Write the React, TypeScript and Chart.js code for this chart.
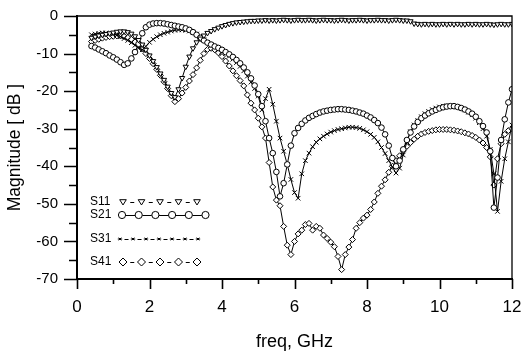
import React, { useEffect, useRef } from 'react';
import { Chart, registerables } from 'chart.js';

Chart.register(...registerables);

// frequency axis (GHz)
const freq = [
  0.4, 0.5, 0.6, 0.7, 0.8, 0.9, 1.0, 1.1, 1.2, 1.3,
  1.4, 1.5, 1.6, 1.7, 1.8, 1.9, 2.0, 2.1, 2.2, 2.3,
  2.4, 2.5, 2.6, 2.7, 2.8, 2.9, 3.0, 3.1, 3.2, 3.3,
  3.4, 3.5, 3.6, 3.7, 3.8, 3.9, 4.0, 4.1, 4.2, 4.3,
  4.4, 4.5, 4.6, 4.7, 4.8, 4.9, 5.0, 5.1, 5.2, 5.3,
  5.4, 5.5, 5.6, 5.7, 5.8, 5.9, 6.0, 6.1, 6.2, 6.3,
  6.4, 6.5, 6.6, 6.7, 6.8, 6.9, 7.0, 7.1, 7.2, 7.3,
  7.4, 7.5, 7.6, 7.7, 7.8, 7.9, 8.0, 8.1, 8.2, 8.3,
  8.4, 8.5, 8.6, 8.7, 8.8, 8.9, 9.0, 9.1, 9.2, 9.3,
  9.4, 9.5, 9.6, 9.7, 9.8, 9.9, 10.0, 10.1, 10.2, 10.3,
  10.4, 10.5, 10.6, 10.7, 10.8, 10.9, 11.0, 11.1, 11.2, 11.3,
  11.4, 11.5, 11.6, 11.7, 11.8, 11.9, 12.0,
];

const s11 = [
  -5.8, -5.5, -5.2, -5.0, -4.8, -4.6, -4.4, -4.2, -4.1, -4.1,
  -4.3, -4.7, -5.4, -6.4, -7.6, -9.0, -10.5, -12.0, -13.6, -15.3,
  -17.0, -18.8, -20.5, -21.6, -19.5, -16.5, -13.5, -10.8, -8.6, -7.0,
  -6.0, -5.2, -4.5, -4.0, -3.5, -3.1, -2.7, -2.4, -2.1, -1.9,
  -1.7, -1.6, -1.5, -1.4, -1.3, -1.3, -1.2, -1.2, -1.1, -1.2,
  -1.1, -1.2, -1.1, -1.0, -1.1, -1.2, -1.1, -1.0, -1.1, -1.1,
  -1.0, -1.1, -1.2, -1.1, -1.0, -1.1, -1.1, -1.2, -1.1, -1.0,
  -1.1, -1.2, -1.1, -1.1, -1.0, -1.1, -1.2, -1.1, -1.1, -1.0,
  -1.1, -1.1, -1.2, -1.1, -1.0, -1.1, -1.2, -1.2, -1.4, -2.0,
  -2.1, -2.2, -2.1, -2.2, -2.1, -2.2, -2.2, -2.1, -2.2, -2.1,
  -2.2, -2.1, -2.2, -2.2, -2.1, -2.2, -2.1, -2.2, -2.2, -2.1,
  -2.2, -2.3, -2.2, -2.1, -2.2, -2.2, -2.1,
];

const s21 = [
  -8.0, -8.4, -8.9, -9.4, -9.9, -10.5, -11.0, -11.6, -12.3, -13.0,
  -12.6, -11.3, -9.6, -7.4, -4.6, -3.0, -2.3, -2.0, -1.9, -1.9,
  -2.0, -2.2, -2.4, -2.6, -2.8, -3.0, -3.3, -3.7, -4.3, -5.0,
  -5.8, -6.5, -7.1, -7.6, -8.1, -8.5, -9.0, -9.6, -10.2, -10.9,
  -11.7, -12.6, -13.7, -15.0, -16.6, -18.5, -20.8, -24.0, -28.0, -32.5,
  -36.5, -41.5, -48.0, -44.5, -39.5, -34.5, -31.2, -29.8, -28.7, -27.8,
  -27.1, -26.6, -26.1, -25.7, -25.4, -25.2, -25.0, -24.9, -24.8, -24.8,
  -24.9, -25.0, -25.2, -25.4, -25.7, -26.0, -26.5, -27.0, -27.7, -28.5,
  -29.7, -31.5, -34.5, -37.8, -40.0, -38.5, -35.5, -33.0, -31.0, -29.4,
  -28.2, -27.2, -26.5, -25.9, -25.4, -25.0, -24.6, -24.3, -24.1, -24.0,
  -24.0, -24.2, -24.5, -24.9, -25.4, -26.0, -26.8, -28.0, -29.3, -31.0,
  -36.0, -51.0, -43.0, -33.0, -27.5, -23.0, -19.5,
];

const s31 = [
  -5.0, -4.8, -4.6, -4.5, -4.5, -4.6, -4.8, -5.1, -5.5, -6.0,
  -6.5, -7.1, -7.8, -8.5, -9.0, -8.1, -7.0, -6.2, -5.5, -5.0,
  -4.6, -4.3, -4.0, -3.8, -3.7, -3.7, -3.8, -4.0, -4.3, -4.8,
  -5.5, -6.3, -7.0, -7.7, -8.3, -8.9, -9.4, -10.0, -10.7, -11.5,
  -12.4, -13.4, -14.6, -16.0, -17.6, -19.3, -21.3, -25.0, -22.0, -19.5,
  -23.5, -28.0, -32.5, -36.0, -39.5, -43.5, -47.0, -48.5, -42.0, -38.5,
  -36.5, -34.8, -33.6, -32.7, -32.0, -31.4, -30.9, -30.5, -30.2, -30.0,
  -29.8, -29.6, -29.6, -29.7, -29.9, -30.3, -30.8, -31.5, -32.3, -33.5,
  -35.0, -36.6, -38.5, -40.2, -41.8, -40.5, -37.0, -33.5, -30.8, -29.0,
  -27.8, -26.8, -26.0, -25.4, -24.9, -24.5, -24.2, -24.0, -23.9, -23.9,
  -24.0, -24.2, -24.6, -25.0, -25.6, -26.3, -27.2, -28.4, -30.0, -32.0,
  -35.5, -42.0, -52.0, -44.0, -38.0, -33.5, -29.0,
];

const s41 = [
  -6.8, -6.5, -6.2, -5.9, -5.7, -5.5, -5.4, -5.3, -5.3, -5.4,
  -5.7, -6.2, -6.9, -7.8, -8.8, -10.0, -11.3, -12.7, -14.2, -15.8,
  -17.5, -19.3, -21.2, -22.8, -22.0, -20.5, -19.0, -17.3, -15.6, -13.8,
  -11.8, -10.0, -8.9, -8.6, -9.0, -9.8, -10.8, -12.0, -13.3, -14.6,
  -15.9, -17.2, -18.6, -21.0, -23.2, -25.0, -27.2, -29.5, -32.5, -39.0,
  -45.5, -49.0, -50.5, -56.0, -61.0, -63.5, -60.0, -58.0, -57.0, -55.5,
  -55.2, -57.0, -56.0, -56.5, -58.3, -59.2, -60.2, -61.4, -64.0, -67.5,
  -63.5, -61.5, -59.5, -56.5, -55.0, -53.8, -53.0, -51.5, -49.5, -47.2,
  -45.3, -43.6, -41.6, -40.0, -38.5, -37.2, -35.9, -34.7, -33.7, -32.8,
  -32.0, -31.4, -31.0, -30.7, -30.5, -30.3, -30.2, -30.2, -30.2, -30.3,
  -30.4, -30.6, -30.8, -31.1, -31.4, -31.8, -32.3, -33.0, -33.8, -35.0,
  -37.5, -45.0, -38.0, -34.0, -31.5, -30.5, -30.0,
];

const seriesNames = ['S11', 'S21', 'S31', 'S41'];
const xMin = 0;
const xMax = 12;
const yMin = -70;
const yMax = 0;

const FONT = '"Liberation Sans", Arial, Helvetica, sans-serif';

type Shape = 'tri' | 'circle' | 'star' | 'diamond';

function drawShape(ctx: CanvasRenderingContext2D, shape: Shape, x: number, y: number, r: number) {
  ctx.beginPath();
  if (shape === 'tri') {
    ctx.moveTo(x - r, y - r * 0.7);
    ctx.lineTo(x + r, y - r * 0.7);
    ctx.lineTo(x, y + r * 0.9);
    ctx.closePath();
    ctx.fillStyle = '#fff';
    ctx.fill();
    ctx.stroke();
  } else if (shape === 'circle') {
    ctx.arc(x, y, r, 0, Math.PI * 2);
    ctx.fillStyle = '#fff';
    ctx.fill();
    ctx.stroke();
  } else if (shape === 'diamond') {
    ctx.moveTo(x, y - r);
    ctx.lineTo(x + r, y);
    ctx.lineTo(x, y + r);
    ctx.lineTo(x - r, y);
    ctx.closePath();
    ctx.fillStyle = '#fff';
    ctx.fill();
    ctx.stroke();
  } else {
    ctx.moveTo(x - r, y);
    ctx.lineTo(x + r, y);
    ctx.moveTo(x - r * 0.6, y - r * 0.6);
    ctx.lineTo(x + r * 0.6, y + r * 0.6);
    ctx.moveTo(x - r * 0.6, y + r * 0.6);
    ctx.lineTo(x + r * 0.6, y - r * 0.6);
    ctx.stroke();
  }
}

const legendRows: { shape: Shape; y: number; xs: number[]; r: number; joined: boolean }[] = [
  { shape: 'tri', y: 202, xs: [123, 141.5, 160, 178.5, 197], r: 3.3, joined: false },
  { shape: 'circle', y: 215, xs: [122, 138.7, 155.4, 172.1, 188.8, 205.5], r: 3.6, joined: true },
  { shape: 'star', y: 239, xs: [120, 133, 146, 159, 172, 185, 198], r: 2.2, joined: false },
  { shape: 'diamond', y: 262, xs: [123, 141.5, 160, 178.5, 197], r: 4, joined: false },
];

const framePlugin = {
  id: 'frameTicksLegend',
  afterDraw(chart: any) {
    const { ctx, chartArea: a, scales } = chart;
    const xs = scales.x;
    const ys = scales.y;
    ctx.save();
    ctx.strokeStyle = '#000';
    ctx.lineWidth = 1.3;
    ctx.beginPath();
    ctx.moveTo(a.left, a.top);
    ctx.lineTo(a.right, a.top);
    ctx.lineTo(a.right, a.bottom);
    ctx.stroke();

    ctx.lineWidth = 1.6;
    ctx.beginPath();
    for (let v = xMin; v <= xMax; v += 1) {
      const px = Math.round(xs.getPixelForValue(v)) + 0.5;
      const len = v % 2 === 0 ? 10 : 5;
      ctx.moveTo(px, a.bottom);
      ctx.lineTo(px, a.bottom + len);
    }
    for (let v = yMax; v >= yMin; v -= 5) {
      const py = Math.round(ys.getPixelForValue(v)) + 0.5;
      const len = v % 10 === 0 ? 13 : 8;
      ctx.moveTo(a.left - len, py);
      ctx.lineTo(a.left, py);
    }
    ctx.stroke();

    // legend
    ctx.font = '12px ' + FONT;
    ctx.textBaseline = 'middle';
    ctx.textAlign = 'left';
    ctx.fillStyle = '#000';
    legendRows.forEach((row, i) => {
      ctx.fillStyle = '#000';
      ctx.fillText(chart.data.datasets[i].label, 90, row.y);
      ctx.lineWidth = 1;
      ctx.strokeStyle = '#000';
      ctx.beginPath();
      for (let k = 0; k < row.xs.length - 1; k++) {
        const mid = (row.xs[k] + row.xs[k + 1]) / 2;
        if (row.joined) {
          ctx.moveTo(row.xs[k] + row.r, row.y + 0.5);
          ctx.lineTo(row.xs[k + 1] - row.r, row.y + 0.5);
        } else {
          ctx.moveTo(mid - 2, row.y + 0.5);
          ctx.lineTo(mid + 2, row.y + 0.5);
        }
      }
      ctx.stroke();
      row.xs.forEach((x) => drawShape(ctx, row.shape, x, row.y, row.r));
    });
    ctx.restore();
  },
};

function toPoints(ys: number[]) {
  return freq.map((f, i) => ({ x: f, y: ys[i] }));
}

export default function App() {
  const ref = useRef<HTMLCanvasElement | null>(null);

  useEffect(() => {
    if (!ref.current) return;
    const common = {
      borderColor: '#000',
      borderWidth: 1,
      pointBorderColor: '#000',
      pointBackgroundColor: '#fff',
      pointBorderWidth: 1,
      tension: 0,
      fill: false,
    };
    const chart = new Chart(ref.current, {
      type: 'line',
      data: {
        datasets: [
          { ...common, label: seriesNames[0], data: toPoints(s11), pointStyle: 'triangle', rotation: 180, pointRadius: 3 },
          { ...common, label: seriesNames[1], data: toPoints(s21), pointStyle: 'circle', pointRadius: 2.8 },
          { ...common, label: seriesNames[2], data: toPoints(s31), pointStyle: 'crossRot', pointRadius: 3.2, pointBackgroundColor: '#000' },
          { ...common, label: seriesNames[3], data: toPoints(s41), pointStyle: 'rectRot', pointRadius: 3 },
        ],
      },
      options: {
        responsive: false,
        animation: false,
        layout: { padding: { top: 16, right: 9, bottom: 0, left: 0 } },
        plugins: {
          legend: { display: false },
          tooltip: { enabled: false },
        },
        scales: {
          x: {
            type: 'linear',
            min: xMin,
            max: xMax,
            afterFit: (s: any) => { s.height = 77; s.paddingLeft = 0; s.paddingRight = 0; },
            ticks: { stepSize: 2, color: '#000', padding: 18, font: { family: FONT, size: 17 } },
            grid: { display: true, drawOnChartArea: false, drawTicks: false },
            border: { display: true, color: '#000', width: 2 },
            title: { display: true, text: 'freq, GHz', color: '#000', font: { family: FONT, size: 18 }, padding: { top: 0, bottom: 3 } },
          },
          y: {
            type: 'linear',
            min: yMin,
            max: yMax,
            afterFit: (s: any) => { s.width = 77; s.paddingTop = 0; s.paddingBottom = 0; },
            ticks: { stepSize: 10, color: '#000', padding: 19, font: { family: FONT, size: 15 } },
            grid: { display: true, drawOnChartArea: false, drawTicks: false },
            border: { display: true, color: '#000', width: 2 },
            title: { display: true, text: 'Magnitude [ dB ]', color: '#000', font: { family: FONT, size: 17.5 }, padding: { top: 5, bottom: 0 } },
          },
        },
      },
      plugins: [framePlugin],
    } as any);
    return () => chart.destroy();
  }, []);

  return (
    <div style={{ position: 'absolute', left: 0, top: 0, width: 521, height: 356, background: '#fff' }}>
      <canvas ref={ref} width={521} height={356} style={{ display: 'block' }} />
    </div>
  );
}
